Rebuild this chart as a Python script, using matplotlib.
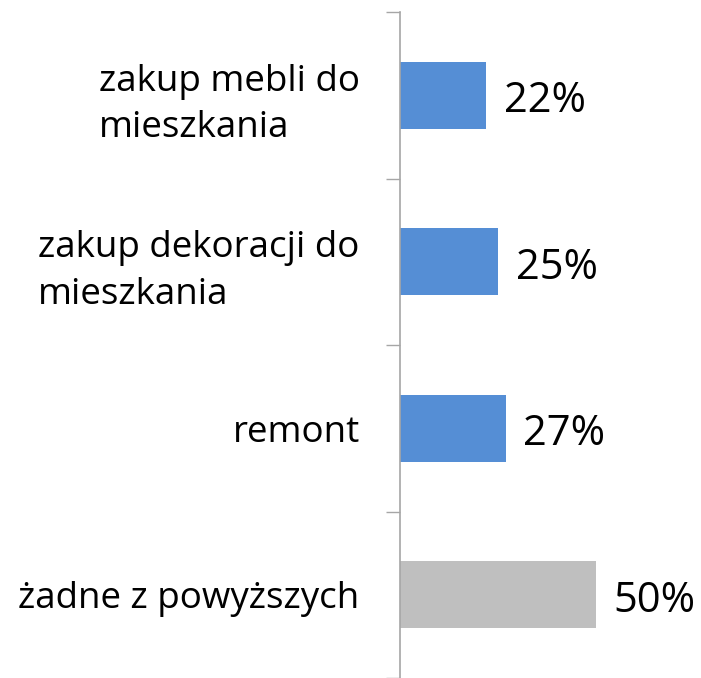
import matplotlib
matplotlib.use("Agg")
import matplotlib.pyplot as plt
import numpy as np

plt.rcParams['font.family'] = ['Open Sans', 'DejaVu Sans']

categories = ["zakup mebli do\nmieszkania", "zakup dekoracji do\nmieszkania", "remont", "żadne z powyższych"]
values = [0.22, 0.25, 0.27, 0.50]
colors = ["#558ed5", "#558ed5", "#558ed5", "#bfbfbf"]
value_labels = ["22%", "25%", "27%", "50%"]

fig = plt.figure(figsize=(7.01, 6.78), dpi=100)
ax = fig.add_axes([400 / 701, 0.0, 294 / 701, 1 - 12 / 678])

y = np.arange(len(categories))
ax.barh(y, values, height=0.4, color=colors)
ax.set_ylim(len(categories) - 0.5, -0.5)
ax.set_xlim(0, 0.75)

for yi, v, lab in zip(y, values, value_labels):
    ax.text(v + 0.045, yi + 0.102, lab, va="baseline", ha="left", fontsize=30, color="black")

# labels at bar centres, tick marks at category boundaries
ax.set_yticks(y)
ax.set_yticklabels(categories, fontsize=26.5, linespacing=1.38, multialignment="left")
ax.tick_params(axis="y", which="major", length=0, pad=29)
ax.set_yticks(np.arange(-0.5, len(categories) + 0.5, 1), minor=True)
ax.tick_params(axis="y", which="minor", length=10, width=1, color="#a6a6a6", direction="out")
ax.set_xticks([])

for s in ["top", "right", "bottom"]:
    ax.spines[s].set_visible(False)
ax.spines["left"].set_color("#a6a6a6")
ax.spines["left"].set_linewidth(1.2)

fig.savefig("out.png", dpi=100)
